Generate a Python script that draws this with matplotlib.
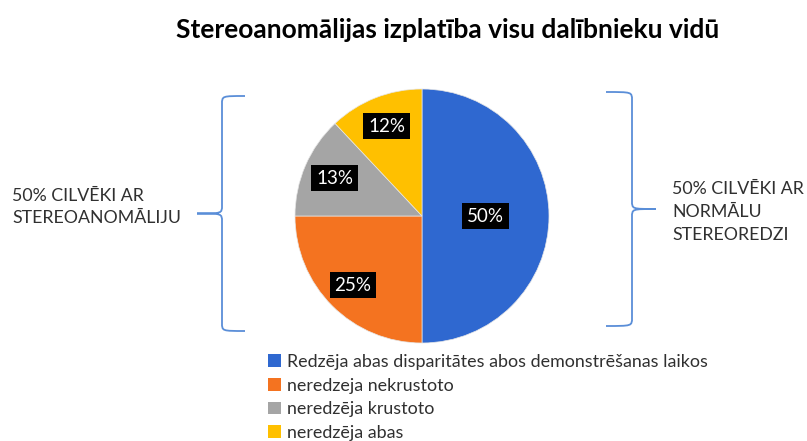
import matplotlib
matplotlib.use("Agg")
import matplotlib.pyplot as plt
import numpy as np
from matplotlib.path import Path
from matplotlib.patches import PathPatch, Patch

plt.rcParams['font.family'] = ['Lato', 'DejaVu Sans']

# Data
categories = ["Redzēja abas disparitātes abos demonstrēšanas laikos",
              "neredzeja nekrustoto",
              "neredzēja krustoto",
              "neredzēja abas"]
shares = [50, 25, 13, 12]
colors = ["#2F68D0", "#F47320", "#A5A5A5", "#FFC000"]
title = "Stereoanomālijas izplatība visu dalībnieku vidū"
left_note = "50% CILVĒKI AR\nSTEREOANOMĀLIJU"
right_note = "50% CILVĒKI AR\nNORMĀLU\nSTEREOREDZI"

W, H = 807, 441
fig = plt.figure(figsize=(W / 100, H / 100), dpi=100)

# background axes in pixel coordinates for title, braces and notes
bg = fig.add_axes([0, 0, 1, 1])
bg.set_xlim(0, W)
bg.set_ylim(H, 0)
bg.axis("off")

bg.text(448, 30, title, ha="center", va="center", fontsize=19, fontweight="bold", color="#000000")


def brace(ax, x_end, x_mid, x_tip, y_top, y_bot, color="#5A8ED8"):
    ym = (y_top + y_bot) / 2
    c = 8
    verts = [(x_end, y_top), (x_mid, y_top), (x_mid, y_top), (x_mid, y_top + c),
             (x_mid, ym - c),
             (x_mid, ym), (x_mid, ym), (x_tip, ym),
             (x_mid, ym), (x_mid, ym), (x_mid, ym + c),
             (x_mid, y_bot - c),
             (x_mid, y_bot), (x_mid, y_bot), (x_end, y_bot)]
    codes = [Path.MOVETO, Path.CURVE4, Path.CURVE4, Path.CURVE4,
             Path.LINETO,
             Path.CURVE4, Path.CURVE4, Path.CURVE4,
             Path.CURVE4, Path.CURVE4, Path.CURVE4,
             Path.LINETO,
             Path.CURVE4, Path.CURVE4, Path.CURVE4]
    ax.add_patch(PathPatch(Path(verts, codes), fill=False, edgecolor=color, lw=1.3))


brace(bg, 245, 222, 197, 96, 331)
brace(bg, 606, 632, 656, 92, 326)

bg.text(12, 207, left_note, ha="left", va="center", fontsize=12.8, color="#303030", linespacing=1.5)
bg.text(672, 212, right_note, ha="left", va="center", fontsize=12.8, color="#303030", linespacing=1.5)

# pie
cx, cy, r = 422, 216, 127
pax = fig.add_axes([(cx - r) / W, (H - cy - r) / H, 2 * r / W, 2 * r / H])
wedges, _ = pax.pie(shares, colors=colors, startangle=90, counterclock=False,
                    wedgeprops=dict(linewidth=0.5, edgecolor="#e6e6e6"))
pax.set_xlim(-1, 1)
pax.set_ylim(-1, 1)
pax.set_aspect("equal")

label_dist = [0.5, 0.77, 0.75, 0.76]
for w, v, d in zip(wedges, shares, label_dist):
    ang = np.deg2rad((w.theta1 + w.theta2) / 2)
    pax.text(d * np.cos(ang), d * np.sin(ang), f"{v}%", ha="center", va="center",
             color="white", fontsize=13.5,
             bbox=dict(boxstyle="square,pad=0.25", facecolor="black", edgecolor="none"))

handles = [Patch(facecolor=c, edgecolor="none") for c in colors]
fig.legend(handles, categories, loc="upper left", bbox_to_anchor=(268 / W, 1 - 354 / H),
           frameon=False, fontsize=12.9, handlelength=0.7, handleheight=0.7,
           handletextpad=0.35, labelspacing=0.42, borderaxespad=0, borderpad=0,
           labelcolor="#303030")

fig.savefig("out.png", dpi=100)
